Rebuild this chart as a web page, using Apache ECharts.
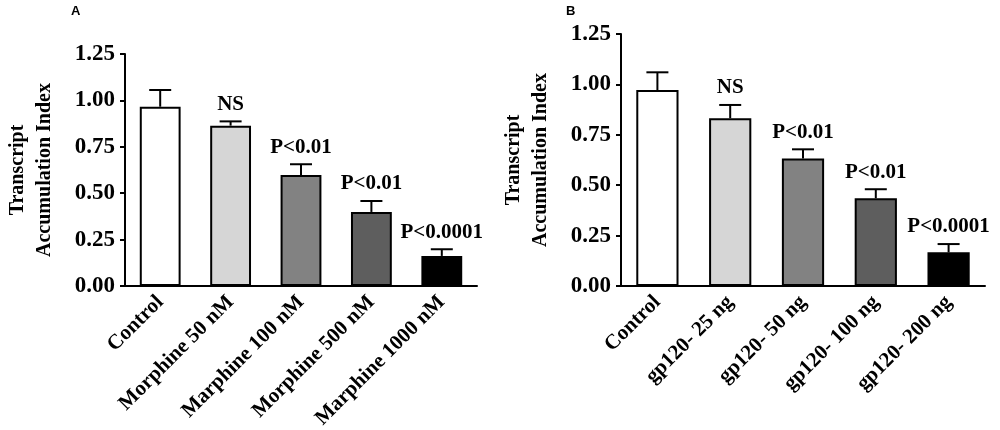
<!DOCTYPE html>
<html>
<head>
<meta charset="utf-8">
<script src="https://cdn.jsdelivr.net/npm/echarts@6/dist/echarts.min.js"></script>
<style>
  html, body { margin: 0; padding: 0; background: #fff; }
  #chart { width: 1000px; height: 430px; }
</style>
</head>
<body>
<div id="chart"></div>
<script>
// panel A: morphine
const catsA = ['Control', 'Morphine 50 nM', 'Marphine 100 nM', 'Morphine 500 nM', 'Marphine 1000 nM'];
const valsA = [0.966, 0.864, 0.598, 0.399, 0.162];
const errA = [0.09, 0.023, 0.058, 0.059, 0.036];
const sigA = ['', 'NS', 'P<0.01', 'P<0.01', 'P<0.0001'];

// panel B: gp120
const catsB = ['Control', 'gp120- 25 ng', 'gp120- 50 ng', 'gp120- 100 ng', 'gp120- 200 ng'];
const valsB = [0.972, 0.832, 0.633, 0.435, 0.167];
const errB = [0.088, 0.066, 0.045, 0.045, 0.041];
const sigB = ['', 'NS', 'P<0.01', 'P<0.01', 'P<0.0001'];

const yTicks = [0, 0.25, 0.5, 0.75, 1, 1.25];
const fills = ['#ffffff', '#d6d6d6', '#828282', '#5e5e5e', '#000000'];

const serif = '"Liberation Serif", "Times New Roman", serif';

const makeX = (cats, gridIndex) => ({
  type: 'category',
  gridIndex: gridIndex,
  data: cats,
  axisLine: { lineStyle: { color: '#000', width: 2 } },
  axisTick: { show: false },
  axisLabel: {
    interval: 0,
    rotate: 45,
    margin: 13,
    color: '#000',
    fontFamily: serif,
    fontWeight: 'bold',
    fontSize: 21
  }
});

const makeY = (gridIndex) => ({
  type: 'value',
  gridIndex: gridIndex,
  min: yTicks[0],
  max: yTicks[yTicks.length - 1],
  interval: 0.25,
  name: 'Transcript\nAccumulation Index',
  nameLocation: 'middle',
  nameRotate: 90,
  nameGap: 67,
  nameTextStyle: {
    color: '#000',
    fontFamily: serif,
    fontWeight: 'bold',
    fontSize: 20,
    lineHeight: 27
  },
  axisLine: { show: true, lineStyle: { color: '#000', width: 2 } },
  axisTick: { show: true, length: 5, lineStyle: { color: '#000', width: 2 } },
  splitLine: { show: false },
  axisLabel: {
    margin: 10,
    color: '#000',
    fontFamily: serif,
    fontWeight: 'bold',
    fontSize: 23,
    formatter: v => v.toFixed(2)
  }
});

const makeBars = (vals, idx) => ({
  type: 'bar',
  xAxisIndex: idx,
  yAxisIndex: idx,
  barWidth: '58%',
  data: vals.map((v, i) => ({
    value: v,
    itemStyle: { color: fills[i], borderColor: '#000', borderWidth: 2 }
  }))
});

const makeErr = (vals, errs, sigs, idx) => ({
  type: 'custom',
  xAxisIndex: idx,
  yAxisIndex: idx,
  encode: { x: 0, y: 1 },
  z: 5,
  data: vals.map((v, i) => [i, v, errs[i]]),
  renderItem: (params, api) => {
    const i = api.value(0);
    const v = api.value(1);
    const e = api.value(2);
    const base = api.coord([i, v]);
    const top = api.coord([i, v + e]);
    const cap = 11;
    const children = [
      { type: 'line', shape: { x1: base[0], y1: base[1], x2: top[0], y2: top[1] },
        style: { stroke: '#000', lineWidth: 2 } },
      { type: 'line', shape: { x1: top[0] - cap, y1: top[1], x2: top[0] + cap, y2: top[1] },
        style: { stroke: '#000', lineWidth: 2 } }
    ];
    const s = sigs[params.dataIndex];
    if (s) {
      children.push({
        type: 'text',
        style: {
          text: s, x: top[0], y: top[1] - 17,
          align: 'center', verticalAlign: 'middle',
          fontFamily: serif, fontWeight: 'bold', fontSize: 21, fill: '#000'
        }
      });
    }
    return { type: 'group', children: children };
  }
});

const chart = echarts.init(document.getElementById('chart'));

chart.setOption({
  animation: false,
  backgroundColor: '#fff',
  title: [
    { text: 'A', left: 66, top: 0, textStyle: { fontFamily: '"Liberation Sans", Arial, sans-serif', fontWeight: 'bold', fontSize: 13, color: '#000' } },
    { text: 'B', left: 561, top: 0, textStyle: { fontFamily: '"Liberation Sans", Arial, sans-serif', fontWeight: 'bold', fontSize: 13, color: '#000' } }
  ],
  grid: [
    { left: 125, right: 523, top: 54, bottom: 144, outerBoundsMode: 'none' },
    { left: 621, right: 15, top: 34, bottom: 144, outerBoundsMode: 'none' }
  ],
  xAxis: [makeX(catsA, 0), makeX(catsB, 1)],
  yAxis: [makeY(0), makeY(1)],
  series: [
    makeBars(valsA, 0),
    makeErr(valsA, errA, sigA, 0),
    makeBars(valsB, 1),
    makeErr(valsB, errB, sigB, 1)
  ]
});
</script>
</body>
</html>
